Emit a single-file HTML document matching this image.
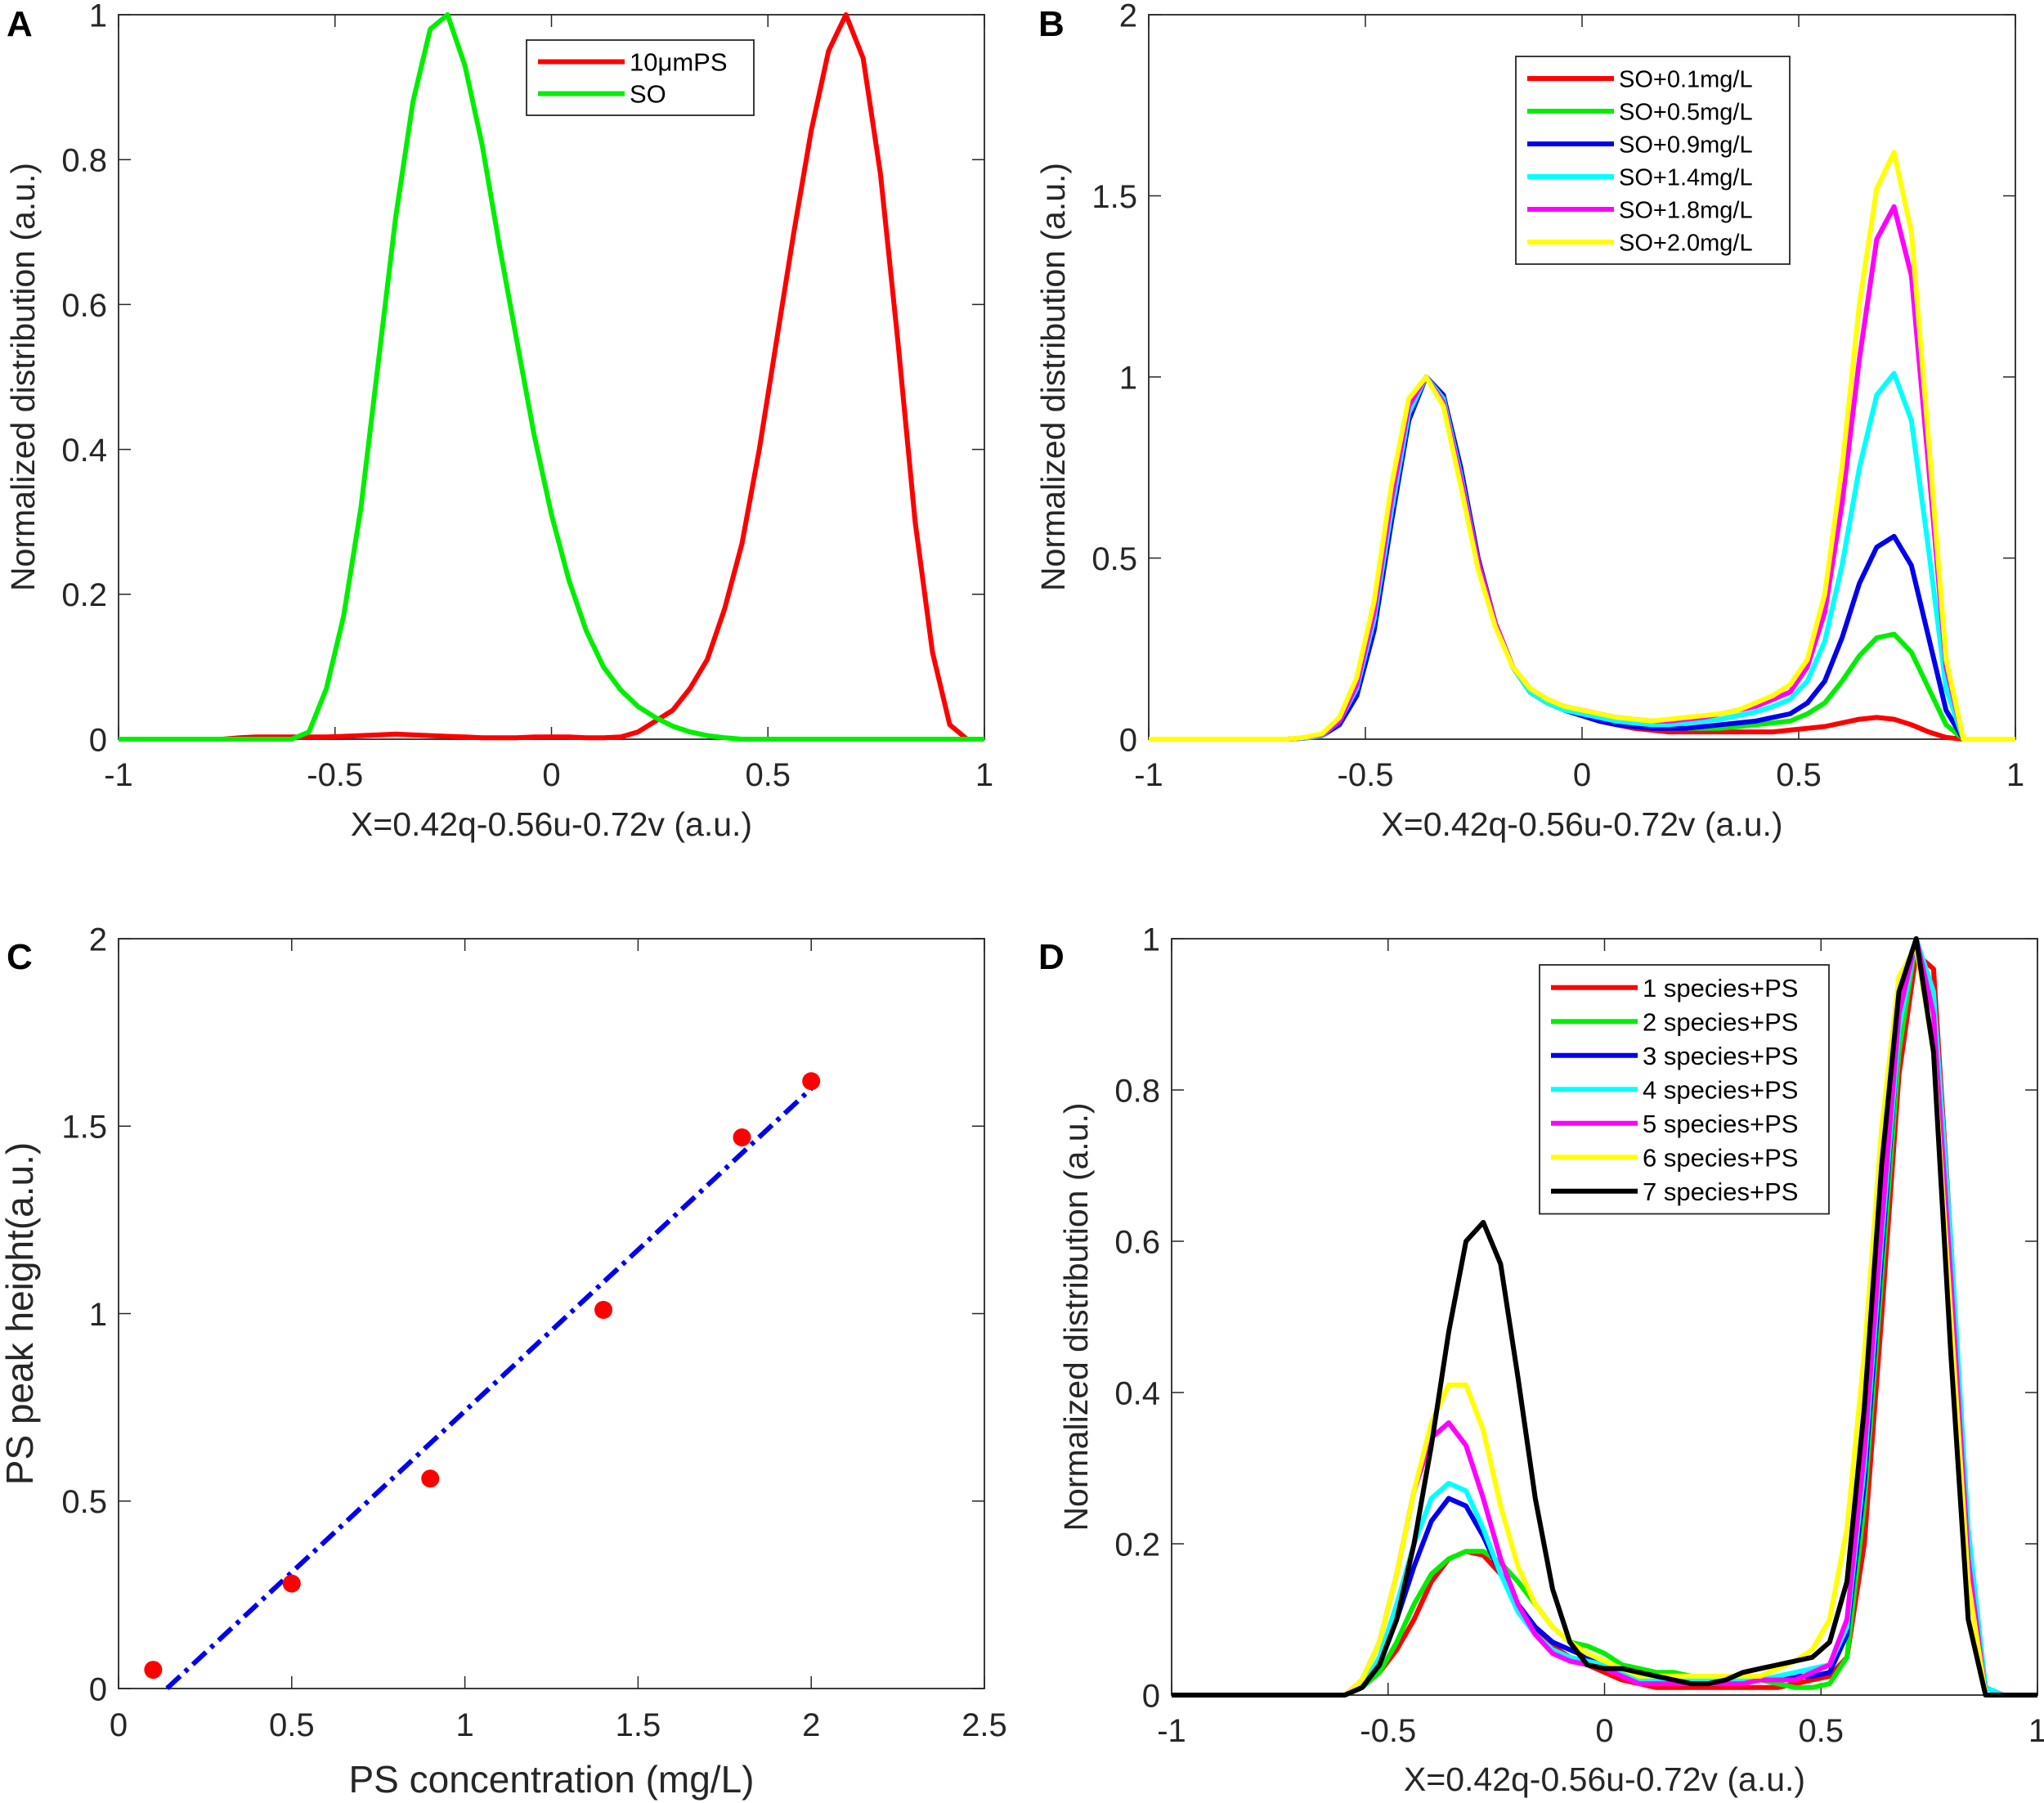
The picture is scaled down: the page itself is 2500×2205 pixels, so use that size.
<!DOCTYPE html>
<html><head><meta charset="utf-8">
<style>
html,body{margin:0;padding:0;background:#fff;}
svg{display:block;font-family:"Liberation Sans",Arial,sans-serif;}
</style></head>
<body>
<svg id="fig" width="2500" height="2205" viewBox="0 0 2500 2205" xmlns="http://www.w3.org/2000/svg"></svg>
<script>
// ---------- DATA ----------
const xGrid = [];
for (let i = 0; i <= 50; i++) xGrid.push(+(-1 + 0.04 * i).toFixed(2));

// Panel A
const aPS = [0,0,0,0,0,0,0,0.002,0.003,0.003,0.003,0.003,0.003,0.004,0.005,0.006,0.007,0.006,0.005,0.004,0.003,0.002,0.002,0.002,0.003,0.003,0.003,0.002,0.002,0.003,0.01,0.025,0.04,0.07,0.11,0.18,0.27,0.4,0.55,0.7,0.84,0.95,1.0,0.94,0.78,0.55,0.3,0.12,0.02,0,0];
const aSO = [0,0,0,0,0,0,0,0,0,0,0,0.01,0.07,0.17,0.32,0.52,0.72,0.88,0.98,1.0,0.93,0.82,0.68,0.55,0.42,0.31,0.22,0.15,0.1,0.068,0.045,0.03,0.018,0.01,0.005,0.002,0,0,0,0,0,0,0,0,0,0,0,0,0,0,0];
const aNames = ["10\u03bcmPS","SO"];

// Panel B
const bS1 = [0,0,0,0,0,0,0,0,0,0.003,0.01,0.04,0.12,0.3,0.6,0.88,1.0,0.95,0.75,0.5,0.32,0.2,0.13,0.1,0.08,0.065,0.05,0.04,0.03,0.025,0.02,0.02,0.02,0.02,0.02,0.02,0.02,0.025,0.03,0.035,0.045,0.055,0.06,0.055,0.04,0.02,0.005,0,0,0,0];
const bS2 = [0,0,0,0,0,0,0,0,0,0.003,0.01,0.04,0.12,0.3,0.6,0.88,1.0,0.95,0.75,0.5,0.32,0.2,0.13,0.1,0.08,0.065,0.05,0.045,0.04,0.035,0.03,0.03,0.03,0.03,0.035,0.04,0.045,0.05,0.07,0.1,0.16,0.23,0.28,0.29,0.24,0.14,0.04,0,0,0,0];
const bS3 = [0,0,0,0,0,0,0,0,0,0.003,0.01,0.04,0.12,0.3,0.6,0.88,1.0,0.95,0.75,0.5,0.32,0.2,0.13,0.1,0.08,0.065,0.05,0.04,0.035,0.03,0.03,0.03,0.035,0.04,0.045,0.05,0.06,0.07,0.1,0.16,0.28,0.43,0.53,0.56,0.48,0.28,0.08,0,0,0,0];
const bS4 = [0,0,0,0,0,0,0,0,0,0.003,0.01,0.05,0.14,0.33,0.63,0.9,1.0,0.94,0.73,0.49,0.32,0.2,0.13,0.1,0.08,0.07,0.06,0.05,0.045,0.04,0.04,0.045,0.05,0.055,0.065,0.075,0.09,0.11,0.16,0.27,0.48,0.75,0.95,1.01,0.88,0.52,0.14,0,0,0,0];
const bS5 = [0,0,0,0,0,0,0,0,0,0.004,0.012,0.05,0.15,0.35,0.66,0.92,1.0,0.93,0.72,0.49,0.32,0.2,0.14,0.11,0.09,0.08,0.07,0.06,0.055,0.05,0.05,0.055,0.06,0.07,0.08,0.09,0.11,0.13,0.2,0.35,0.65,1.05,1.38,1.47,1.28,0.75,0.2,0,0,0,0];
const bS6 = [0,0,0,0,0,0,0,0,0,0.005,0.015,0.06,0.17,0.38,0.7,0.94,1.0,0.92,0.7,0.47,0.31,0.2,0.14,0.11,0.09,0.08,0.07,0.06,0.055,0.05,0.055,0.06,0.065,0.07,0.08,0.1,0.12,0.15,0.22,0.4,0.75,1.2,1.52,1.62,1.4,0.82,0.22,0,0,0,0];
const bNames = ["SO+0.1mg/L","SO+0.5mg/L","SO+0.9mg/L","SO+1.4mg/L","SO+1.8mg/L","SO+2.0mg/L"];

// Panel C
const cConc = [0.1,0.5,0.9,1.4,1.8,2.0];
const cPeak = [0.05,0.28,0.56,1.01,1.47,1.62];
const cFitSlope = 0.86;
const cFitIntercept = -0.12;
const cFitRange = [0.14,2.0];

// Panel D
const dS1 = [0,0,0,0,0,0,0,0,0,0,0,0.01,0.03,0.06,0.1,0.15,0.18,0.19,0.185,0.16,0.12,0.09,0.065,0.05,0.04,0.03,0.02,0.015,0.01,0.01,0.01,0.01,0.01,0.01,0.01,0.01,0.015,0.02,0.025,0.05,0.2,0.5,0.82,0.98,0.96,0.6,0.2,0.01,0,0,0];
const dS2 = [0,0,0,0,0,0,0,0,0,0,0,0.01,0.03,0.07,0.12,0.16,0.18,0.19,0.19,0.175,0.15,0.12,0.09,0.07,0.065,0.055,0.04,0.035,0.03,0.03,0.025,0.02,0.02,0.02,0.02,0.015,0.01,0.01,0.015,0.05,0.25,0.55,0.85,1.0,0.92,0.55,0.17,0,0,0,0];
const dS3 = [0,0,0,0,0,0,0,0,0,0,0,0.01,0.04,0.1,0.17,0.23,0.26,0.25,0.21,0.16,0.12,0.09,0.07,0.06,0.05,0.04,0.03,0.02,0.02,0.02,0.02,0.02,0.02,0.02,0.02,0.02,0.025,0.025,0.03,0.08,0.28,0.58,0.88,1.0,0.92,0.57,0.2,0.01,0,0,0];
const dS4 = [0,0,0,0,0,0,0,0,0,0,0,0.01,0.05,0.12,0.2,0.26,0.28,0.27,0.22,0.16,0.11,0.08,0.06,0.05,0.045,0.04,0.03,0.02,0.02,0.02,0.02,0.02,0.02,0.02,0.02,0.025,0.03,0.035,0.04,0.09,0.3,0.6,0.88,1.0,0.93,0.6,0.22,0.01,0,0,0];
const dS5 = [0,0,0,0,0,0,0,0,0,0,0,0.02,0.07,0.16,0.27,0.34,0.36,0.33,0.26,0.18,0.12,0.08,0.055,0.045,0.04,0.035,0.025,0.015,0.015,0.015,0.015,0.015,0.015,0.015,0.02,0.02,0.02,0.03,0.04,0.1,0.32,0.62,0.9,1.0,0.9,0.55,0.18,0,0,0,0];
const dS6 = [0,0,0,0,0,0,0,0,0,0,0,0.02,0.07,0.16,0.27,0.36,0.41,0.41,0.35,0.25,0.17,0.12,0.09,0.07,0.055,0.045,0.035,0.025,0.025,0.025,0.025,0.025,0.025,0.025,0.025,0.035,0.045,0.06,0.1,0.22,0.45,0.75,0.95,0.99,0.85,0.5,0.15,0,0,0,0];
const dS7 = [0,0,0,0,0,0,0,0,0,0,0,0.01,0.04,0.1,0.2,0.33,0.48,0.6,0.625,0.57,0.42,0.26,0.14,0.07,0.04,0.035,0.035,0.03,0.025,0.02,0.015,0.015,0.02,0.03,0.035,0.04,0.045,0.05,0.07,0.15,0.38,0.7,0.93,1.0,0.85,0.45,0.1,0,0,0,0];
const dNames = ["1 species+PS","2 species+PS","3 species+PS","4 species+PS","5 species+PS","6 species+PS","7 species+PS"];

const xTicksDist = [-1,-0.5,0,0.5,1];
const yTicksA = [0,0.2,0.4,0.6,0.8,1];
const yTicksB = [0,0.5,1,1.5,2];
const xTicksC = [0,0.5,1,1.5,2,2.5];

// ---------- DRAWING ----------
const NS = "http://www.w3.org/2000/svg";
const svg = document.getElementById("fig");
function mk(tag, attrs, parent) {
  const e = document.createElementNS(NS, tag);
  for (const k in attrs) e.setAttribute(k, attrs[k]);
  (parent || svg).appendChild(e);
  return e;
}
function fmt(v){ return String(+v.toFixed(2)); }

function makeAxes(cfg) {
  const g = mk("g", {});
  
  
  const sx = v => cfg.L + (v - cfg.xmin) / (cfg.xmax - cfg.xmin) * (cfg.R - cfg.L);
  const sy = v => cfg.B - (v - cfg.ymin) / (cfg.ymax - cfg.ymin) * (cfg.B - cfg.T);
  const tl = 15;
  cfg.xticks.forEach(t => {
    const x = sx(t);
    const tk = mk("path", {d:`M${x},${cfg.B}V${cfg.B-tl}M${x},${cfg.T}V${cfg.T+tl}`, stroke:"#262626","stroke-width":1.5}, g);
    
    
    const lb = mk("text", {x:x, y:cfg.B+cfg.xtickDy, "text-anchor":"middle", "font-size":cfg.tickFs, fill:"#262626"}, g);
    lb.textContent = fmt(t);
    
    
  });
  cfg.yticks.forEach(t => {
    const y = sy(t);
    const tk = mk("path", {d:`M${cfg.L},${y}H${cfg.L+tl}M${cfg.R},${y}H${cfg.R-tl}`, stroke:"#262626","stroke-width":1.5}, g);
    
    
    const lb = mk("text", {x:cfg.L-14, y:y+cfg.tickFs*0.36, "text-anchor":"end", "font-size":cfg.tickFs, fill:"#262626"}, g);
    lb.textContent = fmt(t);
    
    
  });
  const box = mk("rect", {x:cfg.L, y:cfg.T, width:cfg.R-cfg.L, height:cfg.B-cfg.T, fill:"none", stroke:"#262626","stroke-width":1.8}, g);
  
  
  const xl = mk("text", {x:(cfg.L+cfg.R)/2, y:cfg.xlabY, "text-anchor":"middle", "font-size":cfg.labFs, fill:"#262626"}, g);
  xl.textContent = cfg.xlabel;
  
  
  const yl = mk("text", {x:0, y:0, transform:`translate(${cfg.ylabX},${(cfg.T+cfg.B)/2}) rotate(-90)`, "text-anchor":"middle", "font-size":cfg.labFs, fill:"#262626"}, g);
  yl.textContent = cfg.ylabel;
  
  
  const pl = mk("text", {x:cfg.letterX, y:cfg.letterY, "font-size":44, "font-weight":"bold", fill:"#000"}, g);
  pl.textContent = cfg.letter;
  
  
  return {g, sx, sy};
}

function drawLine(ax, xs, ys, color, name) {
  const d = xs.map((x,i)=>(i?"L":"M")+ax.sx(x).toFixed(1)+","+ax.sy(ys[i]).toFixed(1)).join("");
  const p = mk("path", {d, fill:"none", stroke:color, "stroke-width":6, "stroke-linejoin":"round"}, ax.g);
  
  
}

function legend(ax, x, y, w, rowH, names, colors, fs, lname) {
  const g = mk("g", {}, ax.g);
  
  
  const h = rowH * names.length + 14;
  const r = mk("rect", {x, y, width:w, height:h, fill:"#fff", stroke:"#262626", "stroke-width":1.8}, g);
  
  
  names.forEach((n,i)=>{
    const cy = y + 7 + rowH*(i+0.5);
    const ln = mk("line", {x1:x+14, x2:x+120, y1:cy, y2:cy, stroke:colors[i], "stroke-width":6}, g);
    
    
    const t = mk("text", {x:x+126, y:cy+fs*0.36, "font-size":fs, fill:"#000"}, g);
    t.textContent = n;
    
    
  });
}

const XLAB = "X=0.42q-0.56u-0.72v (a.u.)";
const YLAB = "Normalized distribution (a.u.)";

// Panel A
const axA = makeAxes({name:"panel-a", L:145, R:1204, T:18, B:904, xmin:-1, xmax:1, ymin:0, ymax:1,
  xticks:xTicksDist, yticks:yTicksA, tickFs:40, labFs:41, xtickDy:57, xlabY:1022, ylabX:42,
  xlabel:XLAB, ylabel:YLAB, letter:"A", letterX:8, letterY:44});
drawLine(axA, xGrid, aPS, "#ff0000", "series-10um-ps");
drawLine(axA, xGrid, aSO, "#00ee00", "series-so");
legend(axA, 644, 49, 278, 39, aNames, ["#ff0000","#00ee00"], 31, "legend-a");

// Panel B
const axB = makeAxes({name:"panel-b", L:1405, R:2465, T:18, B:904, xmin:-1, xmax:1, ymin:0, ymax:2,
  xticks:xTicksDist, yticks:yTicksB, tickFs:40, labFs:41, xtickDy:57, xlabY:1022, ylabX:1302,
  xlabel:XLAB, ylabel:YLAB, letter:"B", letterX:1270, letterY:44});
const bColors = ["#ff0000","#00ee00","#0000ee","#00ffff","#ff00ff","#ffff00"];
[bS1,bS2,bS3,bS4,bS5,bS6].forEach((s,i)=>drawLine(axB, xGrid, s, bColors[i], "series-b-"+(i+1)));
legend(axB, 1854, 69, 335, 40, bNames, bColors, 29, "legend-b");

// Panel C
const axC = makeAxes({name:"panel-c", L:145, R:1204, T:1148, B:2065, xmin:0, xmax:2.5, ymin:0, ymax:2,
  xticks:xTicksC, yticks:yTicksB, tickFs:40, labFs:46, xtickDy:58, xlabY:2192, ylabX:40,
  xlabel:"PS concentration (mg/L)", ylabel:"PS peak height(a.u.)", letter:"C", letterX:8, letterY:1185});
{
  const x1 = cFitRange[0], x2 = cFitRange[1];
  const fl = mk("line", {x1:axC.sx(x1), y1:axC.sy(cFitSlope*x1+cFitIntercept), x2:axC.sx(x2), y2:axC.sy(cFitSlope*x2+cFitIntercept),
    stroke:"#0000ee", "stroke-width":6, "stroke-dasharray":"22 8 5 8"}, axC.g);
  
  
  cConc.forEach((c,i)=>{
    const pt = mk("circle", {cx:axC.sx(c), cy:axC.sy(cPeak[i]), r:11, fill:"#ff0000"}, axC.g);
    
    
  });
}

// Panel D
const axD = makeAxes({name:"panel-d", L:1433, R:2492, T:1148, B:2073, xmin:-1, xmax:1, ymin:0, ymax:1,
  xticks:xTicksDist, yticks:yTicksA, tickFs:40, labFs:41, xtickDy:57, xlabY:2190, ylabX:1330,
  xlabel:XLAB, ylabel:YLAB, letter:"D", letterX:1270, letterY:1185});
const dColors = ["#ff0000","#00ee00","#0000ee","#00ffff","#ff00ff","#ffff00","#000000"];
[dS1,dS2,dS3,dS4,dS5,dS6,dS7].forEach((s,i)=>drawLine(axD, xGrid, s, dColors[i], "series-d-"+(i+1)));
legend(axD, 1883, 1180, 354, 41.5, dNames, dColors, 31, "legend-d");
</script>
</body></html>
